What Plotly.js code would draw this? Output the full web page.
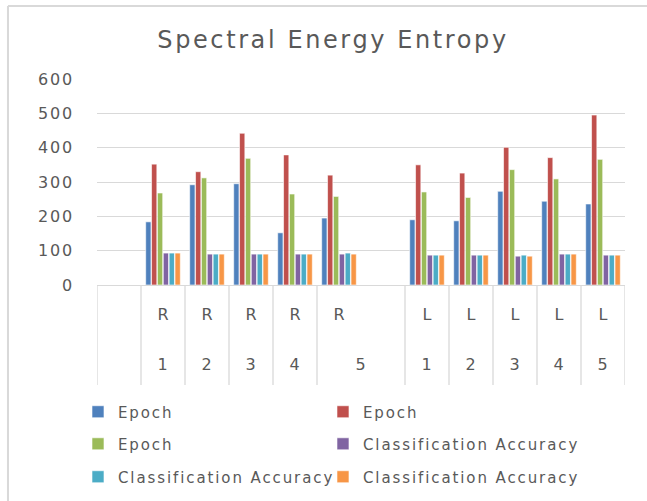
<!DOCTYPE html>
<html>
<head>
<meta charset="utf-8">
<script src="https://cdn.plot.ly/plotly-3.0.1.min.js"></script>
<style>
html,body{margin:0;padding:0;background:#fff;}
#chart{width:647px;height:501px;}
#chart .gtitle{letter-spacing:2.6px;}
#chart .ytick text{letter-spacing:1.8px;}
#chart .annotation-text{letter-spacing:1px;}
</style>
</head>
<body>
<div id="chart"></div>
<script>
// ---- data ----
const rowLabels = ['', 'R', 'R', 'R', 'R', 'R', '', 'L', 'L', 'L', 'L', 'L'];
const numLabels = ['', '1', '2', '3', '4', '5', '', '1', '2', '3', '4', '5'];
const seriesNames = ['Epoch', 'Epoch', 'Epoch', 'Classification Accuracy', 'Classification Accuracy', 'Classification Accuracy'];
const epochA = [null, 184, 292, 295, 152, 195, null, 190, 187, 273, 244, 236];
const epochB = [null, 352, 330, 442, 379, 320, null, 350, 326, 401, 371, 495];
const epochC = [null, 268, 312, 369, 265, 258, null, 271, 255, 336, 309, 366];
const accA = [null, 93, 90, 90, 90, 90, null, 87, 87, 84, 90, 87];
const accB = [null, 93, 90, 90, 90, 93, null, 87, 87, 87, 90, 87];
const accC = [null, 93, 90, 90, 90, 90, null, 87, 87, 84, 90, 87];
const yTicks = [0, 100, 200, 300, 400, 500, 600];

const seriesValues = [epochA, epochB, epochC, accA, accB, accC];
const colors = ['#4F81BD', '#C0504D', '#9BBB59', '#8064A2', '#4BACC6', '#F79646'];
const xIdx = rowLabels.map((_, i) => i);

const FONT = 'DejaVu Sans, sans-serif';
const TXT = '#595959';
const GRID = '#d9d9d9';

// legend positions (paper coords): 2 columns x 3 rows
const legCols = [-0.036, 0.428];
const legRows = [-0.6165, -0.772, -0.932];

const traces = seriesValues.map((vals, k) => ({
  type: 'bar',
  x: xIdx,
  y: vals,
  name: seriesNames[k],
  marker: {color: colors[k], line: {color: '#ffffff', width: 0.6}},
  legend: k === 0 ? 'legend' : 'legend' + (k + 1),
  hoverinfo: 'x+y+name'
}));

const layout = {
  width: 647, height: 501,
  paper_bgcolor: '#ffffff', plot_bgcolor: '#ffffff',
  margin: {l: 97, r: 22, t: 79, b: 216, autoexpand: false},
  barmode: 'group',
  bargap: 0.2,
  bargroupgap: 0.1,
  showlegend: true,
  title: {
    text: 'Spectral Energy Entropy',
    font: {family: FONT, size: 24, color: TXT},
    xref: 'paper', x: 0.447, xanchor: 'center',
    yref: 'container', y: 0.92, yanchor: 'middle'
  },
  xaxis: {
    range: [-0.5, rowLabels.length - 0.5],
    showticklabels: false, showgrid: false, zeroline: false,
    ticks: '', showline: false, fixedrange: true
  },
  yaxis: {
    range: [0, 600],
    tickvals: yTicks,
    ticktext: yTicks.map(String),
    tickfont: {family: FONT, size: 16, color: TXT},
    showgrid: true, gridcolor: GRID, gridwidth: 1,
    zeroline: true, zerolinecolor: GRID, zerolinewidth: 1,
    showline: false, ticks: '', ticklabelstandoff: 22, fixedrange: true
  },
  shapes: [],
  annotations: []
};

// legends, one per series
seriesNames.forEach((n, k) => {
  const key = k === 0 ? 'legend' : 'legend' + (k + 1);
  layout[key] = {
    orientation: 'h',
    x: legCols[k % 2], xanchor: 'left',
    y: legRows[Math.floor(k / 2)], yanchor: 'middle',
    bgcolor: 'rgba(0,0,0,0)',
    font: {family: FONT, size: 15, color: TXT},
    itemclick: false, itemdoubleclick: false
  };
});

// category separators (skip boundary before an empty category that follows a filled one)
for (let i = 0; i <= rowLabels.length; i++) {
  const b = i - 0.5;
  if (i > 0 && i < rowLabels.length && rowLabels[i] === '' && rowLabels[i - 1] !== '') continue;
  layout.shapes.push({
    type: 'line', xref: 'x', yref: 'paper',
    x0: b, x1: b, y0: 0, y1: -0.485,
    line: {color: GRID, width: 1.3}
  });
}

// category labels
rowLabels.forEach((lab, i) => {
  if (lab) {
    layout.annotations.push({
      x: i, y: -0.1456, xref: 'x', yref: 'paper', text: lab, showarrow: false,
      xanchor: 'center', yanchor: 'middle', font: {family: FONT, size: 16, color: TXT}
    });
  }
  if (numLabels[i]) {
    const spans = (i + 1 < rowLabels.length && rowLabels[i + 1] === '');
    layout.annotations.push({
      x: spans ? i + 0.5 : i, y: -0.388, xref: 'x', yref: 'paper', text: numLabels[i], showarrow: false,
      xanchor: 'center', yanchor: 'middle', font: {family: FONT, size: 16, color: TXT}
    });
  }
});

// outer frame (top and left edges visible)
layout.shapes.push({type: 'line', xref: 'paper', yref: 'paper', x0: -0.1686, x1: 1.05, y0: 1.354, y1: 1.354, line: {color: GRID, width: 2}});
layout.shapes.push({type: 'line', xref: 'paper', yref: 'paper', x0: -0.1686, x1: -0.1686, y0: 1.354, y1: -1.06, line: {color: GRID, width: 2}});

function widenLegend() {
  const names = new Set(seriesNames);
  document.querySelectorAll('#chart text').forEach(t => {
    if (names.has(t.textContent)) t.style.letterSpacing = '1.9px';
  });
  document.querySelectorAll('#chart [clip-path]').forEach(el => {
    if ((el.getAttribute('clip-path') || '').indexOf('legend') !== -1) el.removeAttribute('clip-path');
  });
}

Plotly.newPlot('chart', traces, layout, {displayModeBar: false, staticPlot: true}).then(() => {
  widenLegend();
  requestAnimationFrame(widenLegend);
  setTimeout(widenLegend, 50);
  setTimeout(widenLegend, 300);
});
</script>
</body>
</html>
